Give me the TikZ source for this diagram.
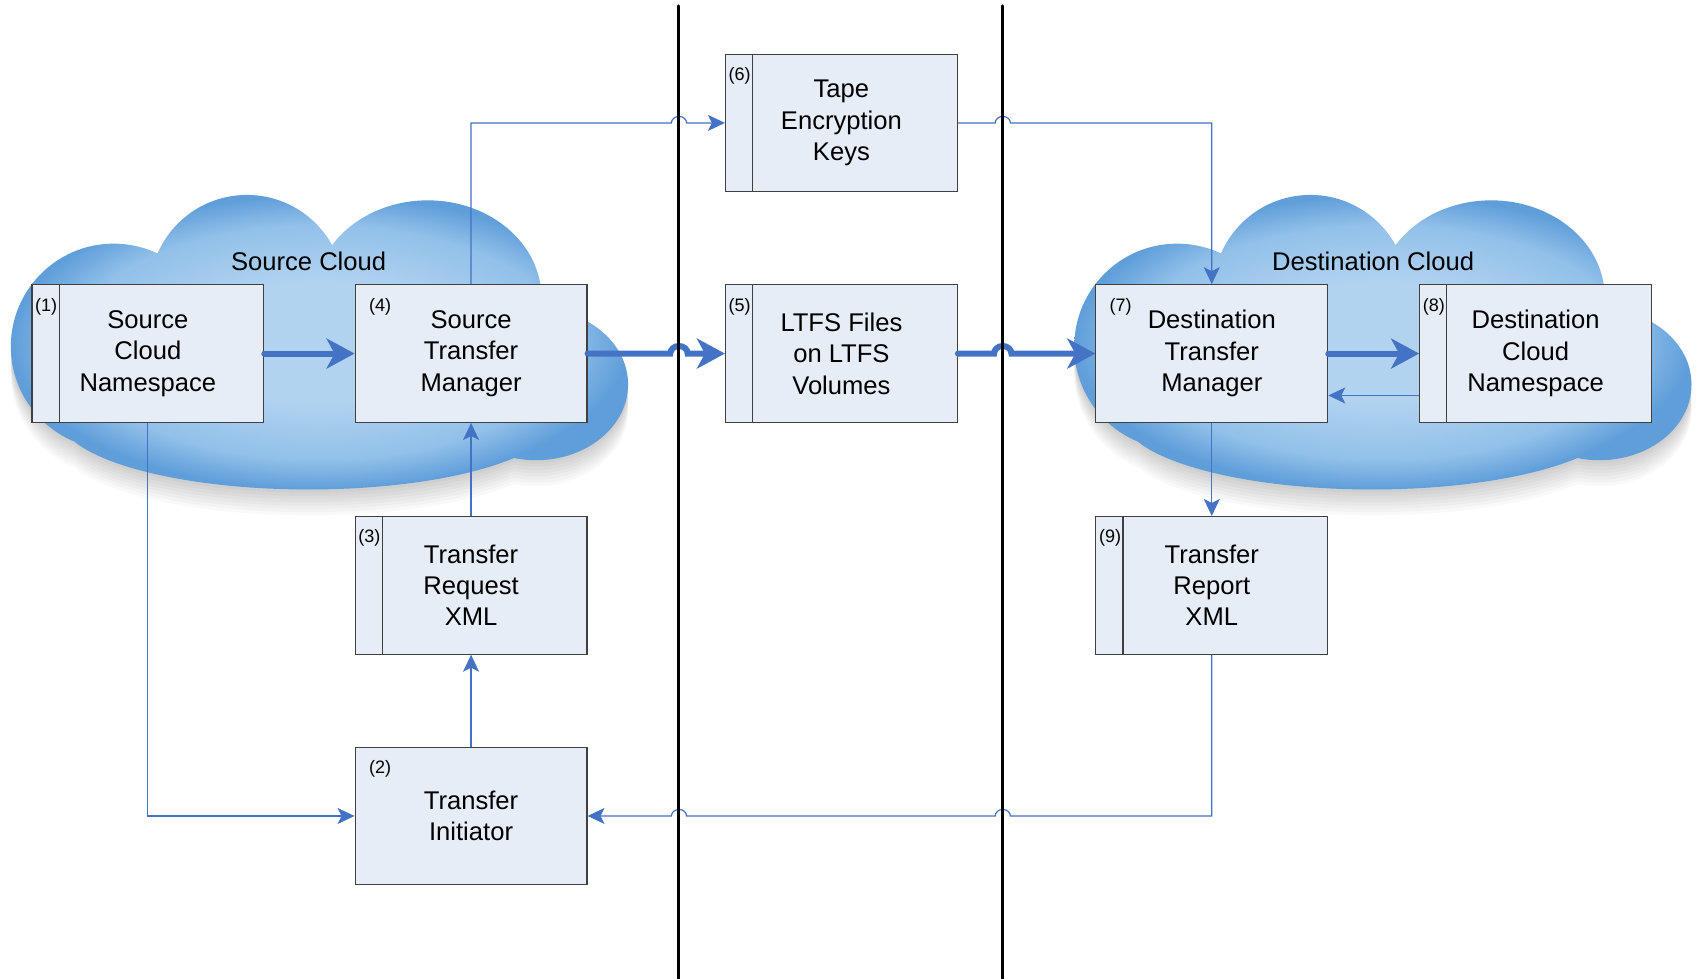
\documentclass[tikz,border=0pt]{standalone}
\usepackage{fontspec}
\setmainfont{Liberation Sans}
\usepackage{tikz}
\usetikzlibrary{calc,arrows.meta}
\usepackage{xcolor}

\definecolor{flowblue}{RGB}{68,114,196}
\definecolor{boxfill}{RGB}{231,237,247}
\definecolor{boxline}{RGB}{64,64,64}
\definecolor{cloudin}{RGB}{178,211,240}
\definecolor{cloudmid}{RGB}{145,192,233}
\definecolor{cloudout}{RGB}{96,158,218}
\pgfdeclareradialshading{cloudshade}{\pgfpoint{0bp}{0bp}}{color(0bp)=(cloudin); color(10bp)=(cloudin); color(20bp)=(cloudmid); color(25bp)=(cloudout); color(50bp)=(cloudout)}

\newcommand{\cloudblob}{(105,320) circle[radius=95] (130,300) ellipse[x radius=90,y radius=65] (228,270) circle[radius=90] (395,275) ellipse[x radius=105,y radius=90] (495,355) ellipse[x radius=85,y radius=70] (285,385) ellipse[x radius=230,y radius=67]}

\begin{document}
\begin{tikzpicture}[
        x=0.5415pt, y=-0.5415pt,
        >={Stealth[length=8.5pt,width=8pt,inset=2pt]},
        block/.style={draw=boxline, fill=boxfill, line width=0.6pt,
                      minimum width=115.9pt, minimum height=68.8pt, inner sep=0pt,
                      align=center, font=\fontsize{12.8}{15.7}\selectfont},
        strip/.style={block,
                      path picture={\draw[boxline, line width=0.6pt]
                        ([xshift=13.6pt]path picture bounding box.north west) --
                        ([xshift=13.6pt]path picture bounding box.south west);}},
        tag/.style={inner sep=0pt, font=\fontsize{9}{10}\selectfont},
        cloudname/.style={inner sep=0pt, font=\fontsize{12.8}{15.7}\selectfont},
        flow/.style={draw=flowblue, line width=0.6pt, ->},
        bigflow/.style={draw=flowblue, line width=3pt, line cap=round,
                        -{Stealth[length=14pt,width=15pt,inset=4pt]}},
        wall/.style={line width=1.5pt, line cap=round}
      ]
        \useasboundingbox[fill=white] (0,0) rectangle (1568,904);

        \foreach \dx in {0,982} {
          \foreach \dy in {3,6,...,24}
            \fill[black, opacity=0.022, shift={(\dx,\dy)}] \cloudblob;
          \shade[shading=cloudshade, shift={(\dx,0)}] \cloudblob;
        }
        \node[cloudname] (srccloud) at (285,241) {Source Cloud};
        \node[cloudname] (dstcloud) at (1268,241) {Destination Cloud};

        \node[strip] (srcns) at (136.5,326.5) {Source\\Cloud\\Namespace};
        \node[block] (srctm) at (435,326.5)   {Source\\Transfer\\Manager};
        \node[strip] (treq)  at (435,540.5)   {Transfer\\Request\\XML};
        \node[block] (tinit) at (435,753.5)   {Transfer\\Initiator};
        \node[strip] (tkeys) at (777,113.5)   {Tape\\Encryption\\Keys};
        \node[strip] (ltfs)  at (777,326.5)   {LTFS Files\\on LTFS\\Volumes};
        \node[block] (dsttm) at (1119,326.5)  {Destination\\Transfer\\Manager};
        \node[strip] (dstns) at (1418,326.5)  {Destination\\Cloud\\Namespace};
        \node[strip] (trep)  at (1119,540.5)  {Transfer\\Report\\XML};

        \node[tag] (tag1) at ($(srcns.north west)+(13.6,21)$) {(1)};
        \node[tag] (tag2) at ($(tinit.north west)+(23.5,21)$) {(2)};
        \node[tag] (tag3) at ($(treq.north west)+(13.6,20.5)$) {(3)};
        \node[tag] (tag4) at ($(srctm.north west)+(23.5,21)$) {(4)};
        \node[tag] (tag5) at ($(ltfs.north west)+(13.6,21)$) {(5)};
        \node[tag] (tag6) at ($(tkeys.north west)+(13.6,20.5)$) {(6)};
        \node[tag] (tag7) at ($(dsttm.north west)+(23.5,21)$) {(7)};
        \node[tag] (tag8) at ($(dstns.north west)+(13.6,21)$) {(8)};
        \node[tag] (tag9) at ($(trep.north west)+(13.6,20.5)$) {(9)};

        \coordinate (wallLtop) at (627,5.5);
        \coordinate (wallLbot) at (627,904);
        \coordinate (wallRtop) at (926,5.5);
        \coordinate (wallRbot) at (926,904);

        \draw[bigflow] (srcns.east) -- (srctm.west);
        \draw[bigflow] (srctm.east) -- ($(wallLtop |- srctm.east)+(-8,0)$)
          arc[start angle=180, end angle=360, x radius=8, y radius=7] -- (ltfs.west);
        \draw[bigflow] (ltfs.east) -- ($(wallRtop |- ltfs.east)+(-8,0)$)
          arc[start angle=180, end angle=360, x radius=8, y radius=7] -- (dsttm.west);
        \draw[bigflow] (dsttm.east) -- (dstns.west);
        \draw[flow] ($(dstns.west)+(0,38.7)$) -- ($(dsttm.east)+(0,38.7)$);
        \draw[flow] (srctm.north) -- (srctm.north |- tkeys.west) -- ($(wallLtop |- tkeys.west)+(-7,0)$)
          arc[start angle=180, end angle=360, x radius=7, y radius=6] -- (tkeys.west);
        \draw[flow] (tkeys.east) -- ($(wallRtop |- tkeys.east)+(-7,0)$)
          arc[start angle=180, end angle=360, x radius=7, y radius=6] -- (dsttm.north |- tkeys.east) -- (dsttm.north);
        \draw[flow] (treq.north) -- (srctm.south);
        \draw[flow] (tinit.north) -- (treq.south);
        \draw[flow] (srcns.south) -- (srcns.south |- tinit.west) -- (tinit.west);
        \draw[flow] (dsttm.south) -- (trep.north);
        \draw[flow] (trep.south) -- (trep.south |- tinit.east) -- ($(wallRtop |- tinit.east)+(7,0)$)
          arc[start angle=0, end angle=-180, x radius=7, y radius=6] -- ($(wallLtop |- tinit.east)+(7,0)$)
          arc[start angle=0, end angle=-180, x radius=7, y radius=6] -- (tinit.east);

        \draw[wall] (wallLtop) -- (wallLbot);
        \draw[wall] (wallRtop) -- (wallRbot);
      \end{tikzpicture}
\end{document}
